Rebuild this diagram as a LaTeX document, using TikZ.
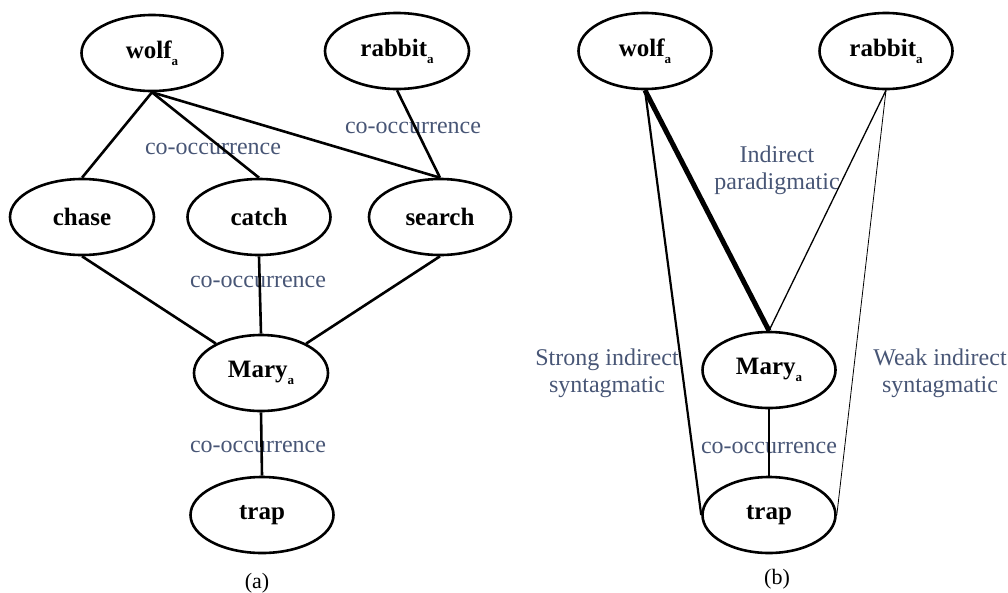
\documentclass[tikz,border=0pt]{standalone}
\usepackage{fontspec}
\setmainfont{Liberation Serif}
\usetikzlibrary{shapes.geometric}
\definecolor{lblcol}{RGB}{72,86,118}
\newcommand{\subA}{\raisebox{-0.28em}{\fontsize{13}{13}\selectfont\bfseries a}}
\tikzset{
  word/.style={ellipse, draw=black, line width=2.6pt, inner sep=0pt,
    font=\fontsize{25}{28}\selectfont\bfseries, minimum height=76pt},
  lbl/.style={text=lblcol, font=\fontsize{24}{27}\selectfont, align=center, inner sep=0pt},
  captxt/.style={font=\fontsize{22}{24}\selectfont, inner sep=0pt},
  edge/.style={line width=2.6pt}
}
\begin{document}
\begin{tikzpicture}[x=1pt,y=-1pt]
\useasboundingbox (0,0) rectangle (1008,592);
% ---------- panel (a)
\node[word, minimum width=141pt] (wa) at (152,53) {wolf\subA};
\node[word, minimum width=144pt] (ra) at (397,51) {rabbit\subA};
\node[word, minimum width=144pt] (ch) at (82,217) {chase};
\node[word, minimum width=143pt] (ca) at (259,217) {catch};
\node[word, minimum width=142pt] (se) at (440,217) {search};
\node[word, minimum width=134pt] (ma) at (261,373) {Mary\subA};
\node[word, minimum width=143pt] (tr) at (262,515) {trap};
\node[captxt] (capa) at (257,583) {(a)};
\node[lbl] (l1) at (213,149) {co-occurrence};
\node[lbl] (l2) at (413,128) {co-occurrence};
\node[lbl] (l3) at (258,282) {co-occurrence};
\node[lbl] (l4) at (258,447) {co-occurrence};
\draw[edge] (wa.south) -- (ch.north);
\draw[edge] (wa.south) -- (ca.north);
\draw[edge] (wa.south) -- (se.north);
\draw[edge] (ra.south) -- (se.north);
\draw[edge] (ch.south) -- (ma);
\draw[edge] (ca.south) -- (ma.north);
\draw[edge] (se.south) -- (ma);
\draw[edge] (ma.south) -- (tr.north);
% ---------- panel (b)
\node[word, minimum width=133pt] (wb) at (645,51) {wolf\subA};
\node[word, minimum width=133pt] (rb) at (886,51) {rabbit\subA};
\node[word, minimum width=133pt] (mb) at (769,370) {Mary\subA};
\node[word, minimum width=133pt] (tb) at (769,515) {trap};
\node[captxt] (capb) at (777,579) {(b)};
\node[lbl] (m1) at (777,170) {Indirect\\paradigmatic};
\node[lbl] (m2) at (607,373) {Strong indirect\\syntagmatic};
\node[lbl] (m3) at (940,373) {Weak indirect\\syntagmatic};
\node[lbl] (m4) at (769,448) {co-occurrence};
\draw[line width=2.2pt] (wb.south) -- (tb.west);
\draw[line width=5pt] (wb.south) -- (mb.north);
\draw[line width=1.3pt] (rb.south) -- (mb.north);
\draw[line width=0.8pt] (rb.south) -- (tb.east);
\draw[edge] (mb.south) -- (tb.north);
\end{tikzpicture}
\end{document}
